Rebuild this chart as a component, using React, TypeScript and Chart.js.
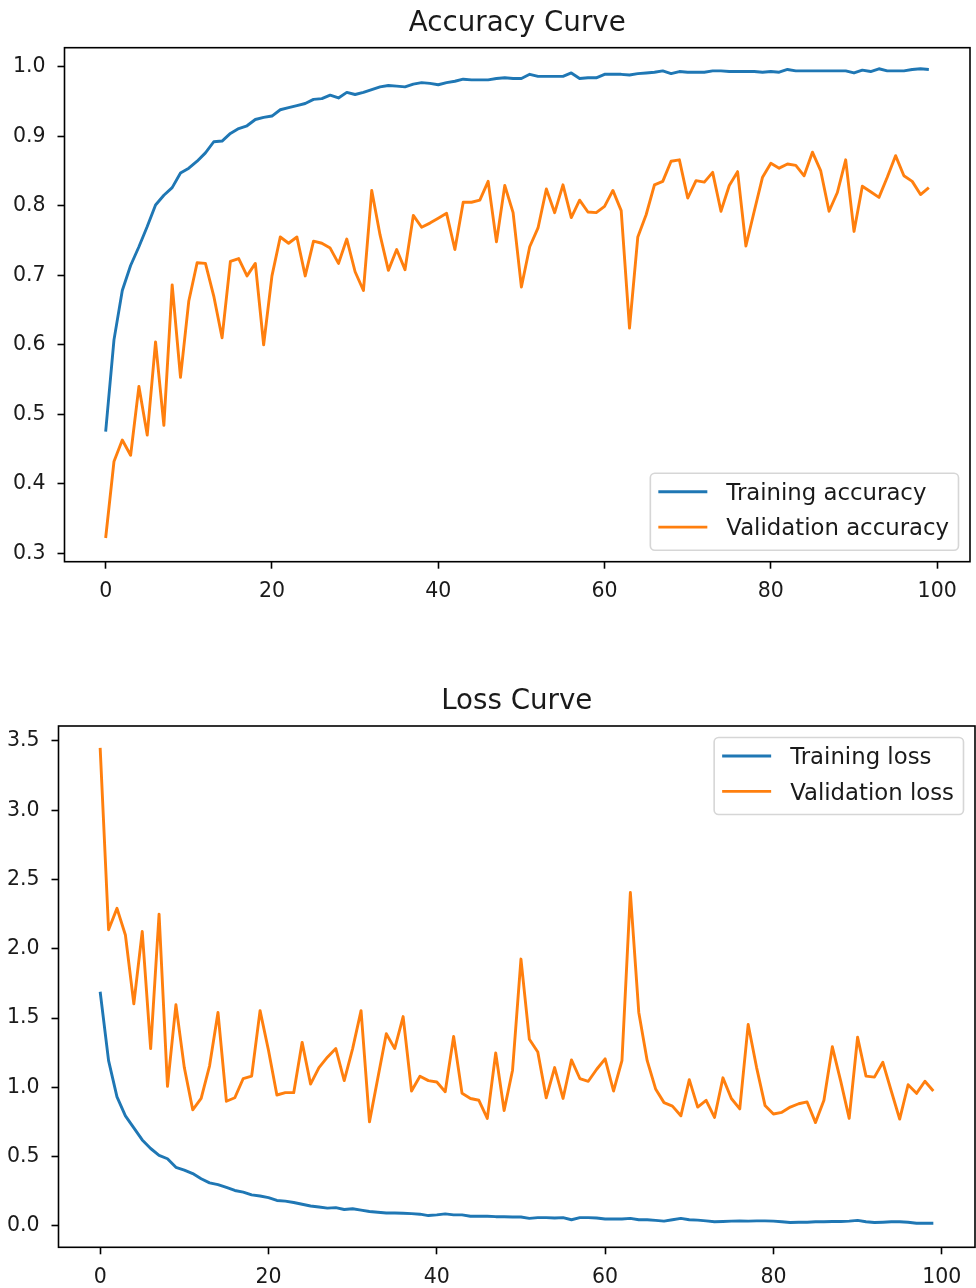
import React, { useEffect, useRef } from "react";
import { Chart, registerables } from "chart.js";

Chart.register(...registerables);

// Epoch index along the x axis
const epochs = Array.from({ length: 100 }, (_, i) => i);

const trainAcc = [
  0.475, 0.607, 0.678, 0.714, 0.741, 0.77, 0.801, 0.815, 0.826, 0.847,
  0.854, 0.864, 0.876, 0.892, 0.893, 0.904, 0.911, 0.915, 0.924, 0.927,
  0.929, 0.938, 0.941, 0.944, 0.947, 0.953, 0.954, 0.959, 0.955, 0.963,
  0.96, 0.963, 0.967, 0.971, 0.973, 0.972, 0.971, 0.975, 0.977, 0.976,
  0.974, 0.977, 0.979, 0.982, 0.981, 0.981, 0.981, 0.983, 0.984, 0.983,
  0.983, 0.989, 0.986, 0.986, 0.986, 0.986, 0.991, 0.983, 0.984, 0.984,
  0.989, 0.989, 0.989, 0.988, 0.99, 0.991, 0.992, 0.994, 0.99, 0.993,
  0.992, 0.992, 0.992, 0.994, 0.994, 0.993, 0.993, 0.993, 0.993, 0.992,
  0.993, 0.992, 0.996, 0.994, 0.994, 0.994, 0.994, 0.994, 0.994, 0.994,
  0.991, 0.995, 0.993, 0.997, 0.994, 0.994, 0.994, 0.996, 0.997, 0.996,
];

const valAcc = [
  0.322, 0.432, 0.463, 0.441, 0.54, 0.47, 0.604, 0.484, 0.686, 0.553,
  0.663, 0.718, 0.717, 0.67, 0.61, 0.72, 0.724, 0.699, 0.717, 0.6,
  0.699, 0.755, 0.746, 0.755, 0.699, 0.749, 0.746, 0.739, 0.717, 0.752,
  0.705, 0.678, 0.822, 0.758, 0.707, 0.737, 0.708, 0.786, 0.769, 0.775,
  0.782, 0.789, 0.737, 0.805, 0.805, 0.808, 0.835, 0.748, 0.829, 0.79,
  0.683, 0.741, 0.768, 0.824, 0.79, 0.83, 0.783, 0.808, 0.791, 0.79,
  0.799, 0.822, 0.793, 0.624, 0.755, 0.787, 0.83, 0.835, 0.864, 0.866,
  0.811, 0.836, 0.834, 0.848, 0.792, 0.829, 0.849, 0.742, 0.792, 0.841,
  0.861, 0.854, 0.86, 0.858, 0.843, 0.877, 0.85, 0.792, 0.819, 0.866,
  0.763, 0.828, 0.82, 0.812, 0.841, 0.872, 0.843, 0.835, 0.816, 0.826,
];

const trainLoss = [
  1.69, 1.193, 0.932, 0.795, 0.708, 0.621, 0.559, 0.51, 0.485, 0.423,
  0.403, 0.378, 0.341, 0.311, 0.298, 0.278, 0.256, 0.244, 0.224, 0.216,
  0.204, 0.184, 0.179, 0.169, 0.157, 0.144, 0.137, 0.129, 0.132, 0.119,
  0.124, 0.114, 0.104, 0.099, 0.094, 0.094, 0.092, 0.089, 0.085, 0.075,
  0.08, 0.087, 0.08, 0.08, 0.07, 0.07, 0.07, 0.067, 0.067, 0.065,
  0.065, 0.055, 0.06, 0.06, 0.057, 0.06, 0.045, 0.06, 0.06, 0.057,
  0.05, 0.05, 0.05, 0.055, 0.045, 0.045, 0.04, 0.035, 0.045, 0.055,
  0.045, 0.042, 0.037, 0.03, 0.032, 0.035, 0.037, 0.035, 0.037, 0.037,
  0.035, 0.03, 0.025, 0.027, 0.027, 0.03, 0.03, 0.032, 0.032, 0.035,
  0.04, 0.03, 0.025, 0.027, 0.03, 0.03, 0.027, 0.02, 0.02, 0.02,
];

const valLoss = [
  3.45, 2.138, 2.292, 2.1, 1.603, 2.125, 1.28, 2.25, 1.007, 1.596,
  1.143, 0.838, 0.92, 1.156, 1.541, 0.9, 0.925, 1.064, 1.081, 1.554,
  1.268, 0.945, 0.962, 0.962, 1.325, 1.024, 1.143, 1.218, 1.28, 1.049,
  1.28, 1.554, 0.751, 1.069, 1.387, 1.28, 1.511, 0.974, 1.081, 1.049,
  1.039, 0.969, 1.367, 0.957, 0.92, 0.907, 0.776, 1.248, 0.833, 1.124,
  1.926, 1.347, 1.255, 0.925, 1.143, 0.92, 1.198, 1.064, 1.044, 1.131,
  1.206, 0.974, 1.193, 2.406, 1.541, 1.193, 0.989, 0.89, 0.865, 0.795,
  1.056, 0.858, 0.907, 0.783, 1.069, 0.92, 0.845, 1.454, 1.143, 0.87,
  0.808, 0.82, 0.858, 0.882, 0.895, 0.746, 0.907, 1.293, 1.044, 0.776,
  1.362, 1.081, 1.074, 1.181, 0.974, 0.771, 1.019, 0.957, 1.044, 0.974,
];

const xTicks = [0, 20, 40, 60, 80, 100];
const accTicks = [0.3, 0.4, 0.5, 0.6, 0.7, 0.8, 0.9, 1.0];
const lossTicks = [0, 0.5, 1.0, 1.5, 2.0, 2.5, 3.0, 3.5];

const FONT = "'DejaVu Sans', 'Liberation Sans', sans-serif";
const BLUE = "#1f77b4";
const ORANGE = "#ff7f0e";
const TEXT = "#1a1a1a";

// Axes box, centred title and a framed legend drawn over the plot area
const axesDecor = {
  id: "axesDecor",
  afterDatasetsDraw(chart: any, _args: any, opts: any) {
    const { ctx, chartArea: a } = chart;
    ctx.save();

    ctx.strokeStyle = "#000";
    ctx.lineWidth = 1.6;
    ctx.strokeRect(a.left, a.top, a.right - a.left, a.bottom - a.top);

    ctx.fillStyle = TEXT;
    ctx.font = `27.7px ${FONT}`;
    ctx.textAlign = "center";
    ctx.textBaseline = "alphabetic";
    ctx.fillText(opts.title, (a.left + a.right) / 2, a.top - opts.titleGap);

    const fs = 22.8;
    ctx.font = `${fs}px ${FONT}`;
    const items = chart.data.datasets.map((d: any) => ({ label: d.label, color: d.borderColor }));
    const textW = Math.max(...items.map((it: any) => ctx.measureText(it.label).width));
    const leftPad = 8, sample = 49, gap = 19, rightPad = 9.5;
    const boxW = leftPad + sample + gap + textW + rightPad;
    const boxH = 77;
    const rowTop = 18.5, rowStep = 35.4;
    const pad = 11.5;
    const bx = a.right - pad - boxW;
    const by = opts.corner === "upper" ? a.top + pad : a.bottom - pad - boxH;

    ctx.beginPath();
    ctx.roundRect(bx, by, boxW, boxH, 4.5);
    ctx.fillStyle = "rgba(255,255,255,0.8)";
    ctx.fill();
    ctx.strokeStyle = "rgba(204,204,204,0.8)";
    ctx.lineWidth = 1.6;
    ctx.stroke();

    items.forEach((it: any, i: number) => {
      const y = by + rowTop + i * rowStep;
      ctx.beginPath();
      ctx.moveTo(bx + leftPad, y);
      ctx.lineTo(bx + leftPad + sample, y);
      ctx.strokeStyle = it.color;
      ctx.lineWidth = 2.9;
      ctx.stroke();
      ctx.fillStyle = TEXT;
      ctx.textAlign = "left";
      ctx.textBaseline = "alphabetic";
      ctx.fillText(it.label, bx + leftPad + sample + gap, y + 0.3645 * fs);
    });

    ctx.restore();
  },
};

type PanelProps = {
  width: number;
  height: number;
  top: number;
  title: string;
  titleGap: number;
  corner: "upper" | "lower";
  labels: [string, string];
  train: number[];
  val: number[];
  yTicks: number[];
  yMin: number;
  yMax: number;
  padTop: number;
  padRight: number;
  yAxisW: number;
  xAxisH: number;
};

function Panel(p: PanelProps) {
  const ref = useRef<HTMLCanvasElement | null>(null);

  useEffect(() => {
    if (!ref.current) return;
    const tickFont = { family: FONT, size: 20.5 };
    const chart = new Chart(ref.current, {
      type: "line",
      data: {
        datasets: [
          {
            label: p.labels[0],
            data: epochs.map((e, i) => ({ x: e, y: p.train[i] })),
            borderColor: BLUE,
            backgroundColor: BLUE,
            borderWidth: 2.9,
            pointRadius: 0,
            tension: 0,
            borderJoinStyle: "round",
            fill: false,
          },
          {
            label: p.labels[1],
            data: epochs.map((e, i) => ({ x: e, y: p.val[i] })),
            borderColor: ORANGE,
            backgroundColor: ORANGE,
            borderWidth: 2.9,
            pointRadius: 0,
            tension: 0,
            borderJoinStyle: "round",
            fill: false,
          },
        ],
      },
      options: {
        responsive: false,
        animation: false,
        devicePixelRatio: 1,
        layout: { padding: { top: p.padTop, right: p.padRight, bottom: 0, left: 0 } },
        plugins: {
          legend: { display: false },
          tooltip: { enabled: false },
          title: { display: false },
          axesDecor: { title: p.title, titleGap: p.titleGap, corner: p.corner },
        } as any,
        scales: {
          x: {
            type: "linear",
            min: -4.95,
            max: 103.95,
            afterBuildTicks: (s: any) => {
              s.ticks = xTicks.map((v) => ({ value: v }));
            },
            afterFit: (s: any) => {
              s.height = p.xAxisH;
            },
            grid: {
              display: true,
              drawOnChartArea: false,
              drawTicks: true,
              tickLength: 7,
              tickWidth: 1.6,
              tickColor: "#000",
            },
            border: { display: false },
            ticks: {
              font: tickFont,
              color: TEXT,
              padding: 11,
              maxRotation: 0,
              autoSkip: false,
              callback: (v: any) => String(v),
            },
          },
          y: {
            type: "linear",
            min: p.yMin,
            max: p.yMax,
            afterBuildTicks: (s: any) => {
              s.ticks = p.yTicks.map((v) => ({ value: v }));
            },
            afterFit: (s: any) => {
              s.width = p.yAxisW;
            },
            grid: {
              display: true,
              drawOnChartArea: false,
              drawTicks: true,
              tickLength: 7,
              tickWidth: 1.6,
              tickColor: "#000",
            },
            border: { display: false },
            ticks: {
              font: tickFont,
              color: TEXT,
              padding: 12,
              autoSkip: false,
              callback: (v: any) => Number(v).toFixed(1),
            },
          },
        },
      },
      plugins: [axesDecor],
    });
    return () => chart.destroy();
  }, []);

  return (
    <div style={{ position: "absolute", left: 0, top: p.top, width: p.width, height: p.height }}>
      <canvas ref={ref} width={p.width} height={p.height} style={{ display: "block" }} />
    </div>
  );
}

export default function App() {
  return (
    <div style={{ position: "absolute", left: 0, top: 0, width: 976, height: 1288, background: "#fff" }}>
      <Panel
        width={976}
        height={640}
        top={0}
        title="Accuracy Curve"
        titleGap={17}
        corner="lower"
        labels={["Training accuracy", "Validation accuracy"]}
        train={trainAcc}
        val={valAcc}
        yTicks={accTicks}
        yMin={0.2879}
        yMax={1.0273}
        padTop={47.7}
        padRight={6}
        yAxisW={64.5}
        xAxisH={78.3}
      />
      <Panel
        width={976}
        height={648}
        top={640}
        title="Loss Curve"
        titleGap={17}
        corner="upper"
        labels={["Training loss", "Validation loss"]}
        train={trainLoss}
        val={valLoss}
        yTicks={lossTicks}
        yMin={-0.154}
        yMax={3.608}
        padTop={86}
        padRight={1}
        yAxisW={58.5}
        xAxisH={40.7}
      />
    </div>
  );
}
